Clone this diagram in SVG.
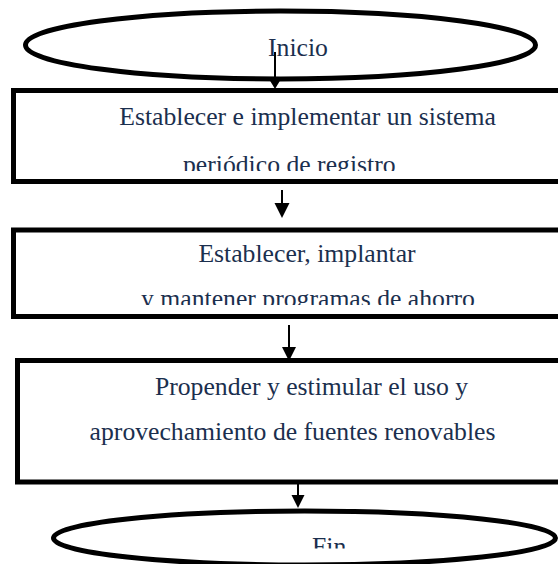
<svg xmlns="http://www.w3.org/2000/svg" width="558" height="564" viewBox="0 0 558 564">
  <style>
    .shape { fill: #ffffff; stroke: #000000; stroke-width: 5; }
    .lbl { font-family: "Liberation Serif", "Times New Roman", serif; font-size: 25.7px; fill: #1b2f4e; }
    .conn line { stroke: #000000; stroke-width: 2; }
    .conn polygon { fill: #000000; }
  </style>
  <defs>
    <clipPath id="c1"><rect x="0" y="95" width="558" height="76"/></clipPath>
    <clipPath id="c2"><rect x="0" y="234" width="558" height="71"/></clipPath>
    <clipPath id="c4"><rect x="0" y="500" width="558" height="48.5"/></clipPath>
  </defs>
  <rect width="558" height="564" fill="#ffffff"/>

  <g id="inicio">
    <ellipse class="shape" cx="280.5" cy="45" rx="255" ry="34"/>
    <text class="lbl" x="268" y="56">Inicio</text>
  </g>

  <g id="paso1">
    <rect class="shape" x="13.5" y="90.5" width="560" height="91"/>
    <text class="lbl" x="307.5" y="125" text-anchor="middle">Establecer e implementar un sistema</text>
    <text class="lbl" x="183" y="172.5" clip-path="url(#c1)">periódico de registro</text>
  </g>

  <g id="paso2">
    <rect class="shape" x="13.5" y="230" width="560" height="86.5"/>
    <text class="lbl" x="307" y="261.7" text-anchor="middle">Establecer, implantar</text>
    <text class="lbl" x="308" y="307" text-anchor="middle" clip-path="url(#c2)">y mantener programas de ahorro</text>
  </g>

  <g id="paso3">
    <rect class="shape" x="17.5" y="360.5" width="560" height="121.5"/>
    <text class="lbl" x="311.5" y="395" text-anchor="middle">Propender y estimular el uso y</text>
    <text class="lbl" x="292.5" y="440" text-anchor="middle">aprovechamiento de fuentes renovables</text>
  </g>

  <g id="fin">
    <ellipse class="shape" cx="304.5" cy="538" rx="251" ry="27"/>
    <text class="lbl" x="312" y="554.7" clip-path="url(#c4)">Fin</text>
  </g>

  <g id="connectors" class="conn">
    <line x1="275" y1="52" x2="275" y2="80"/>
    <polygon points="269,79 281,79 275,89"/>
    <line x1="282" y1="190" x2="282" y2="204"/>
    <polygon points="274.5,203 289.5,203 282,218"/>
    <line x1="289" y1="325" x2="289" y2="348"/>
    <polygon points="282,347 296,347 289,361"/>
    <line x1="298" y1="481" x2="298" y2="496"/>
    <polygon points="291.5,495 304.5,495 298,508"/>
  </g>
</svg>
